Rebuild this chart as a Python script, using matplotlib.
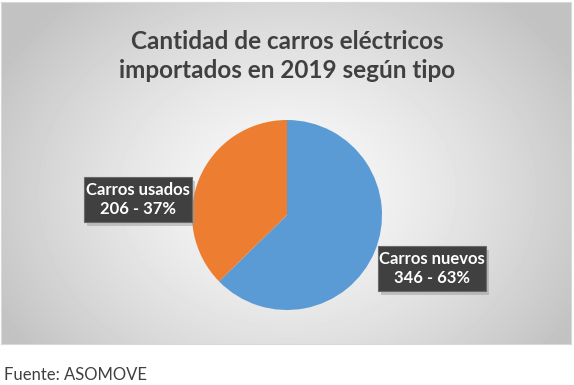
import numpy as np
import matplotlib.pyplot as plt
from matplotlib.patches import Rectangle

labels = ['Carros nuevos', 'Carros usados']
values = [346, 206]
colors = ['#5B9BD5', '#ED7D31']
title = 'Cantidad de carros eléctricos\nimportados en 2019 según tipo'
source = 'Fuente: ASOMOVE'

W, H = 574, 385
fig = plt.figure(figsize=(W / 100, H / 100), dpi=100)
fig.patch.set_facecolor('white')

def px(x0, y0, x1, y1):
    # pixel box (top-left origin) -> figure fraction rect
    return [x0 / W, 1 - y1 / H, (x1 - x0) / W, (y1 - y0) / H]

# radial gradient background panel
bg = fig.add_axes(px(1, 2, 571, 344))
yy, xx = np.mgrid[0:342, 0:570]
r = np.sqrt(((xx - 286) / 330.0) ** 2 + ((yy - 190) / 260.0) ** 2)
shade = np.clip(0.98 - 0.22 * r ** 1.4, 0.76, 0.98)
bg.imshow(shade, cmap='gray', vmin=0, vmax=1, aspect='auto', interpolation='bilinear')
bg.set_xticks([])
bg.set_yticks([])
for s in bg.spines.values():
    s.set_color('#d9d9d9')

fig.text(287 / W, 1 - 56 / H, title, ha='center', va='center', fontsize=17.5,
         fontweight='bold', family='Lato', color='#404040', linespacing=1.35)

ax = fig.add_axes(px(192, 120, 382, 310))
ax.pie(values, colors=colors, startangle=90, counterclock=False,
       wedgeprops=dict(linewidth=0))
ax.set_xlim(-1, 1)
ax.set_ylim(-1, 1)
ax.set_aspect('equal')
ax.axis('off')

# data labels in dark boxes with drop shadow
pos = [(1.526, -0.563), (-1.568, 0.163)]
bw, bh = 1.137, 0.474
total = sum(values)
for (cx, cy), lab, v in zip(pos, labels, values):
    ax.add_patch(Rectangle((cx - bw / 2 + 0.03, cy - bh / 2 - 0.04), bw, bh,
                           fc='#9a9a9a', ec='none', alpha=0.5, clip_on=False, zorder=4))
    ax.add_patch(Rectangle((cx - bw / 2, cy - bh / 2), bw, bh,
                           fc='#404040', ec='#6a6a6a', lw=0.8, clip_on=False, zorder=5))
    ax.text(cx, cy, f'{lab}\n{v} - {v / total:.0%}', ha='center', va='center',
            fontsize=12, fontweight='bold', family='Lato', color='white',
            linespacing=1.3, zorder=6)

fig.text(4 / W, 1 - 375 / H, source, ha='left', va='center', fontsize=12,
         family='Lato', color='#404040')

fig.savefig('out.png', dpi=100)
